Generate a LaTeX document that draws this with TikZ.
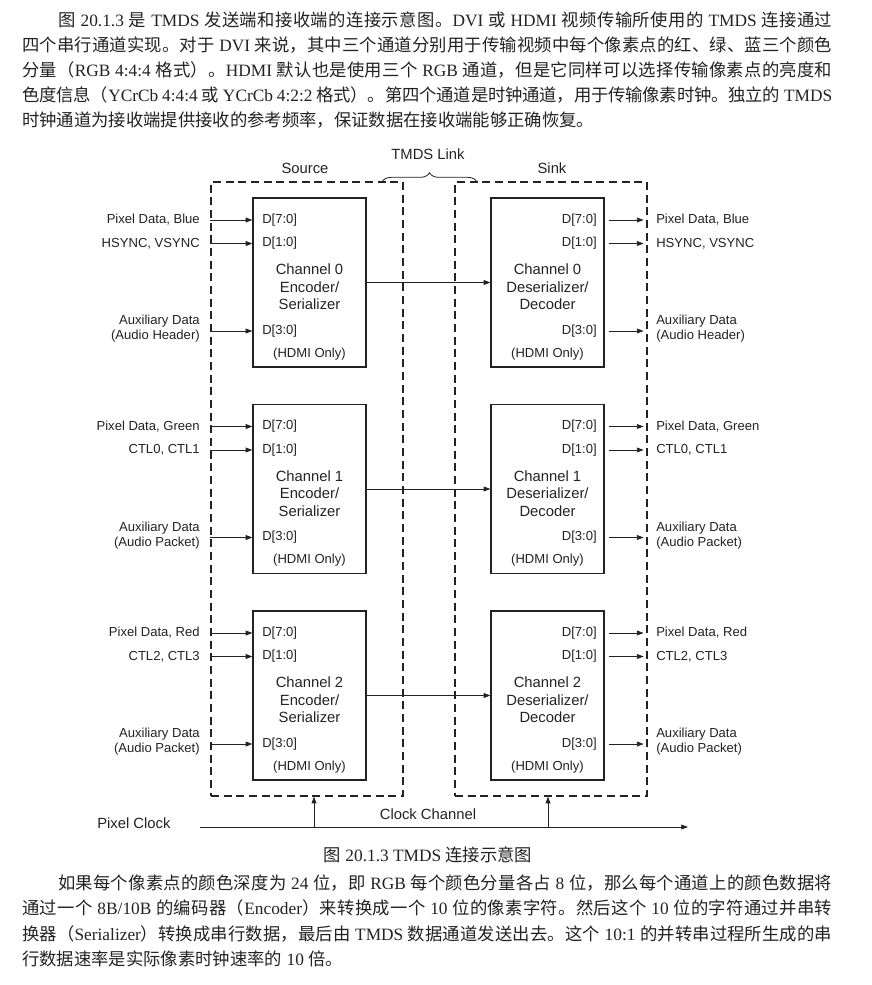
\documentclass[tikz,border=0pt]{standalone}
\usepackage{fontspec}
\setmainfont{Liberation Serif}
\setsansfont{Liberation Sans}
\newfontfamily\zhfont{Noto Sans CJK SC}
\usetikzlibrary{arrows.meta,decorations.pathreplacing}

\definecolor{ink}{HTML}{222222}
\newcommand{\zh}[1]{{\zhfont #1}}

% glue between CJK characters, so that a line can be justified
\makeatletter
\newXeTeXintercharclass\zhcls
\count@="3000 \loop\ifnum\count@<"3040 \XeTeXcharclass\count@=\zhcls \advance\count@ by 1 \repeat
\count@="4E00 \loop\ifnum\count@<"A000 \XeTeXcharclass\count@=\zhcls \advance\count@ by 1 \repeat
\count@="FF00 \loop\ifnum\count@<"FF60 \XeTeXcharclass\count@=\zhcls \advance\count@ by 1 \repeat
\XeTeXinterchartoks\zhcls\zhcls={\hskip 0pt plus 1pt minus 0.4pt\relax}
\makeatother
\XeTeXinterchartokenstate=1

\begin{document}
\begin{tikzpicture}[
  x=0.75pt, y=-0.75pt,
  chbox/.style={draw=ink,line width=0.9pt,minimum width=84.75pt,minimum height=126.75pt,inner sep=0pt},
  sidebox/.style={draw=ink,line width=0.9pt,dash pattern=on 6pt off 3.5pt,
                  minimum width=144pt,minimum height=460.5pt,inner sep=0pt},
  arr/.style={-{Triangle[length=5pt,width=3.6pt]},line width=0.6pt,draw=ink},
  sig/.style={font=\sffamily\fontsize{9.8pt}{11.25pt}\selectfont,inner sep=0pt,text=ink},
  head/.style={font=\sffamily\fontsize{11.1pt}{13.1pt}\selectfont,inner sep=0pt,text=ink},
  para/.style={font=\fontsize{13pt}{19pt}\selectfont,inner sep=0pt,anchor=base west,text=ink}
]
\useasboundingbox (0,0) rectangle (871,985);

% text above the figure
\node[para] (p1a) at (58,26.5) {\hbox to 580.5pt{\zh{图} 20.1.3 \zh{是} TMDS \zh{发送端和接收端的连接示意图。}DVI \zh{或} HDMI \zh{视频传输所使用的} TMDS \zh{连接通过}}};
\node[para] (p1b) at (22,51.5) {\hbox to 607.5pt{\zh{四个串行通道实现。对于} DVI \zh{来说，其中三个通道分别用于传输视频中每个像素点的红、绿、蓝三个颜色}}};
\node[para] (p1c) at (22,76.5) {\hbox to 607.5pt{\zh{分量（}RGB 4:4:4 \zh{格式）。}HDMI \zh{默认也是使用三个} RGB \zh{通道，但是它同样可以选择传输像素点的亮度和}}};
\node[para] (p1d) at (22,101.5) {\hbox to 607.5pt{\zh{色度信息（}YCrCb 4:4:4 \zh{或} YCrCb 4:2:2 \zh{格式）。第四个通道是时钟通道，用于传输像素时钟。独立的} TMDS}};
\node[para] (p1e) at (22,126.5) {\zh{时钟通道为接收端提供接收的参考频率，保证数据在接收端能够正确恢复。}};

% source and sink
\node[sidebox] (src) at (307,489) {};
\node[sidebox] (snk) at (551,489) {};
\node[head] (srcname) at (305,168) {Source};
\node[head] (snkname) at (552,168) {Sink};
\node[head] (linkname) at (428,154) {TMDS Link};
\draw[ink,line width=0.6pt,decorate,decoration={brace,amplitude=7pt}] (382,182) -- (477,182);

% channel 0
\node[chbox] (enc0) at (309.5,282.5) {};
\node[chbox] (dec0) at (547.5,282.5) {};
\node[head,align=center] (t0e) at (309.5,287) {Channel 0\\Encoder/\\Serializer};
\node[head,align=center] (t0d) at (547.5,287) {Channel 0\\Deserializer/\\Decoder};
\node[sig,anchor=west] (e0a) at (262,220) {D[7:0]};
\node[sig,anchor=west] (e0b) at (262,243.5) {D[1:0]};
\node[sig,anchor=west] (e0c) at (262,331) {D[3:0]};
\node[sig,anchor=east] (d0a) at (597,220) {D[7:0]};
\node[sig,anchor=east] (d0b) at (597,243.5) {D[1:0]};
\node[sig,anchor=east] (d0c) at (597,331) {D[3:0]};
\node[sig] (h0e) at (309.5,354) {(HDMI Only)};
\node[sig] (h0d) at (547.5,354) {(HDMI Only)};
\node[sig,anchor=east] (in0a) at (200,220) {Pixel Data, Blue};
\node[sig,anchor=east] (in0b) at (200,243.5) {HSYNC, VSYNC};
\node[sig,anchor=east,align=right] (in0c) at (200,329) {Auxiliary Data\\(Audio Header)};
\node[sig,anchor=west] (out0a) at (656,220) {Pixel Data, Blue};
\node[sig,anchor=west] (out0b) at (656,243.5) {HSYNC, VSYNC};
\node[sig,anchor=west,align=left] (out0c) at (656,329) {Auxiliary Data\\(Audio Header)};
\draw[arr] (src.west |- e0a) -- (enc0.west |- e0a);
\draw[arr] (src.west |- e0b) -- (enc0.west |- e0b);
\draw[arr] (src.west |- e0c) -- (enc0.west |- e0c);
\draw[arr] (enc0) -- (dec0);
\draw[arr,shorten <=3pt,shorten >=3pt] (dec0.east |- d0a) -- (snk.east |- d0a);
\draw[arr,shorten <=3pt,shorten >=3pt] (dec0.east |- d0b) -- (snk.east |- d0b);
\draw[arr,shorten <=3pt,shorten >=3pt] (dec0.east |- d0c) -- (snk.east |- d0c);

% channel 1
\node[chbox] (enc1) at (309.5,489) {};
\node[chbox] (dec1) at (547.5,489) {};
\node[head,align=center] (t1e) at (309.5,493.5) {Channel 1\\Encoder/\\Serializer};
\node[head,align=center] (t1d) at (547.5,493.5) {Channel 1\\Deserializer/\\Decoder};
\node[sig,anchor=west] (e1a) at (262,426.5) {D[7:0]};
\node[sig,anchor=west] (e1b) at (262,450) {D[1:0]};
\node[sig,anchor=west] (e1c) at (262,537.5) {D[3:0]};
\node[sig,anchor=east] (d1a) at (597,426.5) {D[7:0]};
\node[sig,anchor=east] (d1b) at (597,450) {D[1:0]};
\node[sig,anchor=east] (d1c) at (597,537.5) {D[3:0]};
\node[sig] (h1e) at (309.5,560.5) {(HDMI Only)};
\node[sig] (h1d) at (547.5,560.5) {(HDMI Only)};
\node[sig,anchor=east] (in1a) at (200,426.5) {Pixel Data, Green};
\node[sig,anchor=east] (in1b) at (200,450) {CTL0, CTL1};
\node[sig,anchor=east,align=right] (in1c) at (200,535.5) {Auxiliary Data\\(Audio Packet)};
\node[sig,anchor=west] (out1a) at (656,426.5) {Pixel Data, Green};
\node[sig,anchor=west] (out1b) at (656,450) {CTL0, CTL1};
\node[sig,anchor=west,align=left] (out1c) at (656,535.5) {Auxiliary Data\\(Audio Packet)};
\draw[arr] (src.west |- e1a) -- (enc1.west |- e1a);
\draw[arr] (src.west |- e1b) -- (enc1.west |- e1b);
\draw[arr] (src.west |- e1c) -- (enc1.west |- e1c);
\draw[arr] (enc1) -- (dec1);
\draw[arr,shorten <=3pt,shorten >=3pt] (dec1.east |- d1a) -- (snk.east |- d1a);
\draw[arr,shorten <=3pt,shorten >=3pt] (dec1.east |- d1b) -- (snk.east |- d1b);
\draw[arr,shorten <=3pt,shorten >=3pt] (dec1.east |- d1c) -- (snk.east |- d1c);

% channel 2
\node[chbox] (enc2) at (309.5,695.5) {};
\node[chbox] (dec2) at (547.5,695.5) {};
\node[head,align=center] (t2e) at (309.5,700) {Channel 2\\Encoder/\\Serializer};
\node[head,align=center] (t2d) at (547.5,700) {Channel 2\\Deserializer/\\Decoder};
\node[sig,anchor=west] (e2a) at (262,633) {D[7:0]};
\node[sig,anchor=west] (e2b) at (262,656.5) {D[1:0]};
\node[sig,anchor=west] (e2c) at (262,744) {D[3:0]};
\node[sig,anchor=east] (d2a) at (597,633) {D[7:0]};
\node[sig,anchor=east] (d2b) at (597,656.5) {D[1:0]};
\node[sig,anchor=east] (d2c) at (597,744) {D[3:0]};
\node[sig] (h2e) at (309.5,767) {(HDMI Only)};
\node[sig] (h2d) at (547.5,767) {(HDMI Only)};
\node[sig,anchor=east] (in2a) at (200,633) {Pixel Data, Red};
\node[sig,anchor=east] (in2b) at (200,656.5) {CTL2, CTL3};
\node[sig,anchor=east,align=right] (in2c) at (200,742) {Auxiliary Data\\(Audio Packet)};
\node[sig,anchor=west] (out2a) at (656,633) {Pixel Data, Red};
\node[sig,anchor=west] (out2b) at (656,656.5) {CTL2, CTL3};
\node[sig,anchor=west,align=left] (out2c) at (656,742) {Auxiliary Data\\(Audio Packet)};
\draw[arr] (src.west |- e2a) -- (enc2.west |- e2a);
\draw[arr] (src.west |- e2b) -- (enc2.west |- e2b);
\draw[arr] (src.west |- e2c) -- (enc2.west |- e2c);
\draw[arr] (enc2) -- (dec2);
\draw[arr,shorten <=3pt,shorten >=3pt] (dec2.east |- d2a) -- (snk.east |- d2a);
\draw[arr,shorten <=3pt,shorten >=3pt] (dec2.east |- d2b) -- (snk.east |- d2b);
\draw[arr,shorten <=3pt,shorten >=3pt] (dec2.east |- d2c) -- (snk.east |- d2c);

% clock channel
\node[head,anchor=west] (pclk) at (97,823) {Pixel Clock};
\node[head] (clkname) at (428,814) {Clock Channel};
\coordinate (clkin) at (200,827);
\coordinate (clkout) at (688,827);
\coordinate (tap0) at (314,827);
\coordinate (tap1) at (548,827);
\draw[arr] (clkin) -- (clkout);
\draw[arr] (tap0) -- (tap0 |- src.south);
\draw[arr] (tap1) -- (tap1 |- snk.south);

% caption and text below
\node[para,anchor=base] (cap) at (428,861.5) {\zh{图} 20.1.3 TMDS \zh{连接示意图}};
\node[para] (p2a) at (58,889) {\hbox to 580.5pt{\zh{如果每个像素点的颜色深度为} 24 \zh{位，即} RGB \zh{每个颜色分量各占} 8 \zh{位，那么每个通道上的颜色数据将}}};
\node[para] (p2b) at (22,914.5) {\hbox to 607.5pt{\zh{通过一个} 8B/10B \zh{的编码器（}Encoder\zh{）来转换成一个} 10 \zh{位的像素字符。然后这个} 10 \zh{位的字符通过并串转}}};
\node[para] (p2c) at (22,940) {\hbox to 607.5pt{\zh{换器（}Serializer\zh{）转换成串行数据，最后由} TMDS \zh{数据通道发送出去。这个} 10:1 \zh{的并转串过程所生成的串}}};
\node[para] (p2d) at (22,965.5) {\zh{行数据速率是实际像素时钟速率的} 10 \zh{倍。}};
\end{tikzpicture}
\end{document}
